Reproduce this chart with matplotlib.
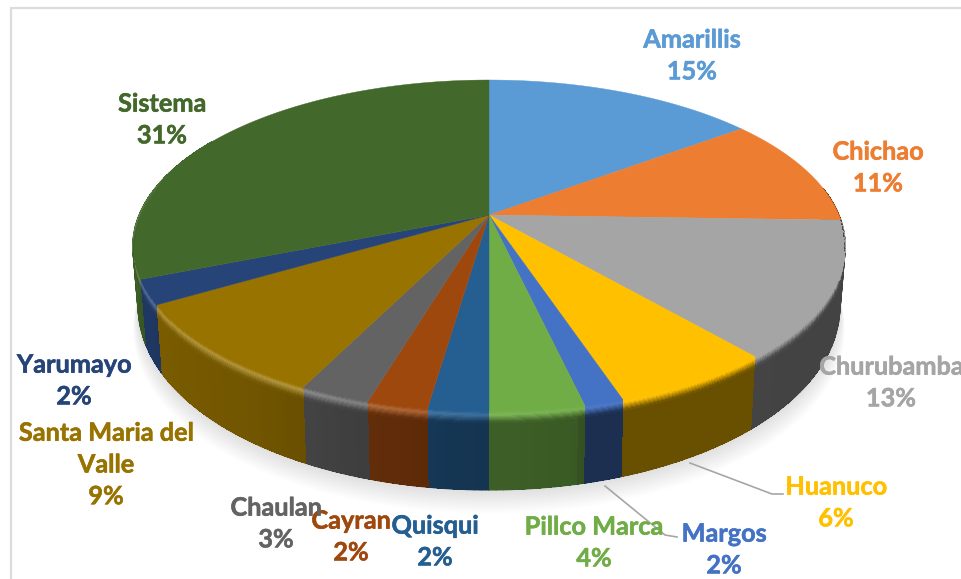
import numpy as np
import matplotlib
matplotlib.use("Agg")
import matplotlib.pyplot as plt
import matplotlib.patheffects as pe
from matplotlib.collections import PolyCollection
from matplotlib.colors import to_rgb

plt.rcParams['font.family'] = ['Lato', 'DejaVu Sans']

# ---- data ----
categories = ["Amarillis", "Chichao", "Churubamba", "Huanuco", "Margos", "Pillco Marca",
              "Quisqui", "Cayran", "Chaulan", "Santa Maria del\nValle", "Yarumayo", "Sistema"]
shares = [14.8, 10.7, 13.2, 6.2, 1.5, 3.6, 2.3, 2.3, 2.7, 9.2, 2.4, 31.1]

# ---- style ----
colors = ["#5B9BD5", "#ED7D31", "#A5A5A5", "#FFC000", "#4472C4", "#70AD47",
          "#255E91", "#9E480E", "#636363", "#997300", "#264478", "#43682B"]
label_x = [692, 878, 891, 836, 724, 594, 435, 351, 276, 106, 74, 162]
label_y = [56, 168, 383, 503, 550, 543, 542, 537, 524, 465, 381, 120]

CX, CY, A, B, Q = 489.0, 215.0, 350.0, 160.2, 0.1867
DEPTH0, DEPTH1 = 56.0, 22.0
BEVEL = 11.0


def top_xy(theta):
    t = np.radians(theta)
    u, v = np.sin(t), np.cos(t)
    w = 1 + Q * v
    return CX + A * u / w, CY - B * v / w, v


def bottom_xy(theta, extra=0.0):
    x, y, v = top_xy(theta)
    return CX + (x - CX) * 0.985, y + DEPTH0 + DEPTH1 * np.abs(v) + extra


def wall_shade(theta):
    return np.interp(theta, [85, 140, 167, 168, 180, 200, 215, 240, 255, 280],
                     [0.40, 0.41, 0.41, 0.52, 0.55, 0.64, 0.74, 0.80, 0.85, 1.05])


def highlight(theta):
    return np.interp(theta, [150, 180, 205, 240, 290], [0.0, 0.10, 0.25, 0.22, 0.10])


def bevel_width(theta):
    return BEVEL * np.interp(theta, [92, 110, 255, 285], [0.0, 1.0, 1.0, 0.0])


def mix(a, b, t):
    return tuple(np.clip(np.array(a) * (1 - t) + np.array(b) * t, 0, 1))


fig = plt.figure(figsize=(9.61, 5.79), dpi=100, facecolor="white")
ax = fig.add_axes([0, 0, 1, 1])
ax.set_xlim(0, 961)
ax.set_ylim(579, 0)
ax.axis("off")

# frame
ax.plot([11, 11, 961], [579, 8, 8], color="#dcdcdc", lw=1.6, solid_joinstyle="miter", zorder=1)

# soft shadow below the disc
all_t = np.linspace(0, 360, 361)
for k in np.arange(1, 24, 1.5):
    bx, by = bottom_xy(all_t, extra=k)
    bx = CX + (bx - CX) * (1 + k * 0.0006)
    ax.fill(bx, by, color="black", alpha=0.009, lw=0, zorder=2)

edges = 3.6 * np.concatenate([[0], np.cumsum(shares)])

for i, col in enumerate(colors):
    base = to_rgb(col)
    t0, t1 = edges[i], edges[i + 1]
    steps = np.append(np.arange(t0, t1, 1.0), t1)

    wall_polys, wall_cols, bevel_polys, bevel_cols = [], [], [], []
    for a0, a1 in zip(steps[:-1], steps[1:]):
        am = (a0 + a1) / 2
        if am < 80 or am > 300:
            continue
        x0, y0, _ = top_xy(a0)
        x1, y1, _ = top_xy(a1)
        bx0, by0 = bottom_xy(a0)
        bx1, by1 = bottom_xy(a1)
        c_wall = tuple(np.clip(np.array(base) * wall_shade(am), 0, 1))
        wall_polys.append([(x0, y0), (x1, y1), (bx1, by1), (bx0, by0)])
        wall_cols.append(c_wall)
        c_hi = mix(base, (1, 1, 1), highlight(am))
        n = 10
        w0, w1 = bevel_width(a0), bevel_width(a1)
        if max(w0, w1) <= 0:
            continue
        for j in range(n):
            f0, f1 = j / n, (j + 1) / n
            s = (f0 + f1) / 2
            c = mix(base, c_hi, s / 0.3) if s < 0.3 else mix(c_hi, c_wall, (s - 0.3) / 0.7)
            sx0 = (bx0 - x0) / (by0 - y0)
            sx1 = (bx1 - x1) / (by1 - y1)
            bevel_polys.append([(x0 + sx0 * f0 * w0, y0 + f0 * w0), (x1 + sx1 * f0 * w1, y1 + f0 * w1),
                                (x1 + sx1 * f1 * w1, y1 + f1 * w1), (x0 + sx0 * f1 * w0, y0 + f1 * w0)])
            bevel_cols.append(c)

    if wall_polys:
        ax.add_collection(PolyCollection(wall_polys, facecolors=wall_cols, edgecolors=wall_cols,
                                         linewidths=0.8, antialiaseds=True, zorder=3))
        ax.add_collection(PolyCollection(wall_polys, facecolors=wall_cols, edgecolors=wall_cols,
                                         linewidths=0.0, antialiaseds=False, zorder=3.1))
    if bevel_polys:
        ax.add_collection(PolyCollection(bevel_polys, facecolors=bevel_cols, edgecolors=bevel_cols,
                                         linewidths=0.0, antialiaseds=False, zorder=5))

    tt = np.linspace(t0, t1, 120)
    fx, fy, _ = top_xy(tt)
    ax.fill(np.r_[CX, fx], np.r_[CY, fy], color=col, lw=0.3, zorder=4 + i * 0.01)

# leader lines
ax.plot([690, 772, 783], [463, 494, 494], color="#a6a6a6", lw=1.2, zorder=6)
ax.plot([605, 665, 677], [486, 535, 537], color="#a6a6a6", lw=1.2, zorder=6)

# labels
for name, share, col, lx, ly in zip(categories, shares, colors, label_x, label_y):
    ax.text(lx, ly, f"{name}\n{share:.0f}%", color=col, fontsize=18.2, fontweight="bold",
            ha="center", va="center", linespacing=1.46, zorder=7, clip_on=False,
            path_effects=[pe.withStroke(linewidth=0.4, foreground=col)])

fig.savefig("out.png", dpi=100, facecolor="white")
